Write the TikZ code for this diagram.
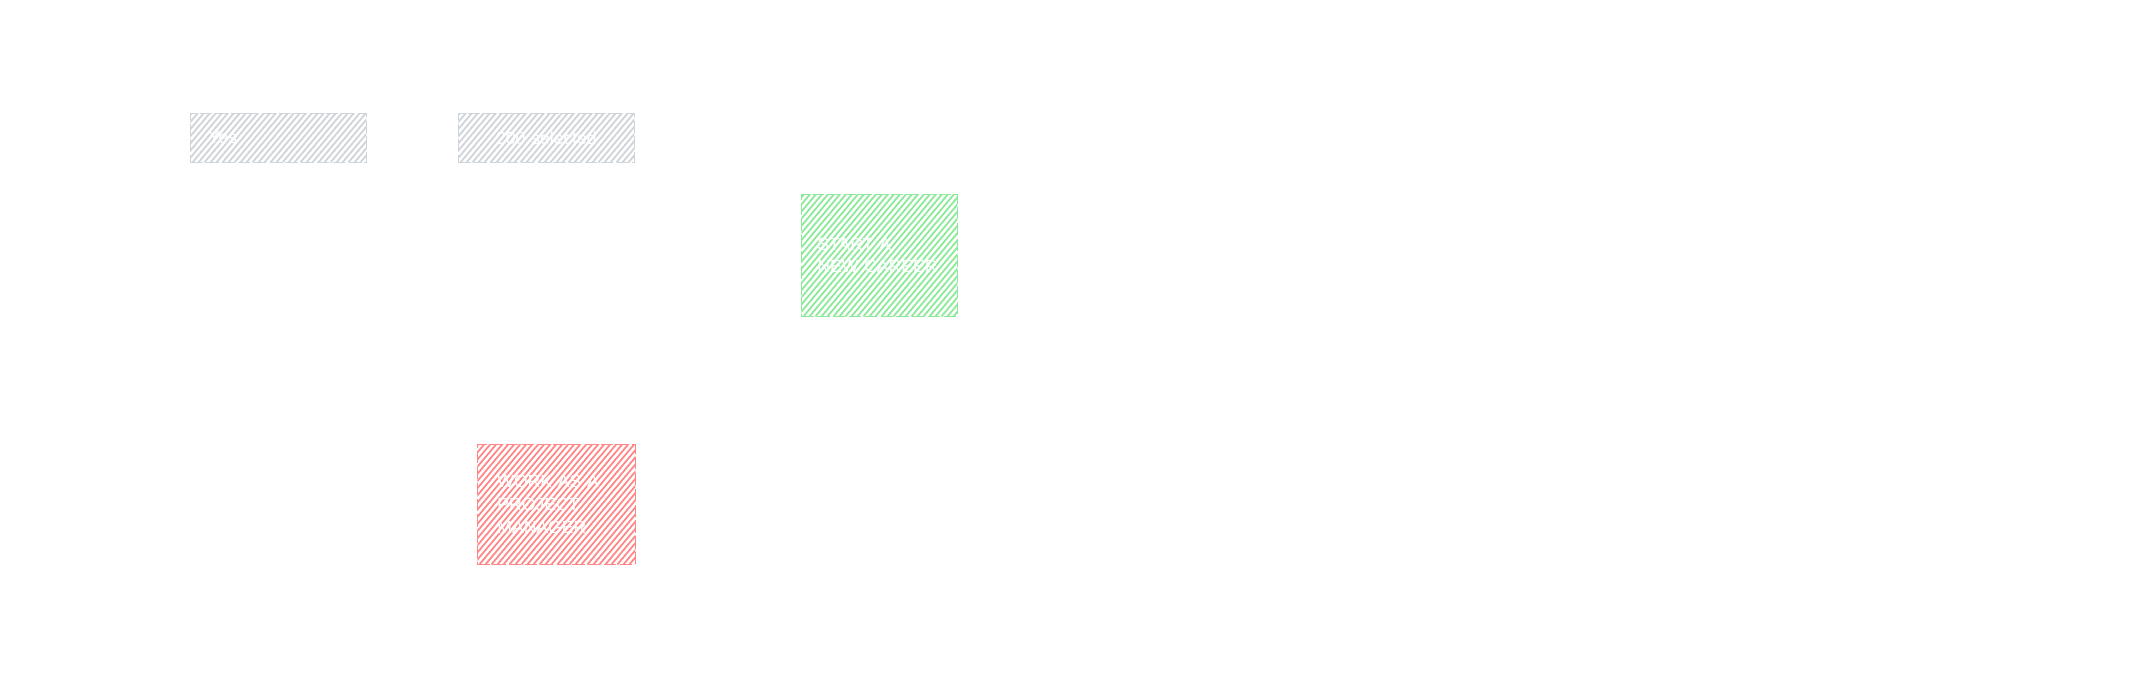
\documentclass[tikz,border=0pt]{standalone}
\usepackage{fontspec}
\setmainfont{Liberation Sans}
\definecolor{sketchgray}{HTML}{CED4DA}
\definecolor{sketchgreen}{HTML}{8CE99A}
\definecolor{sketchred}{HTML}{FF8787}

\begin{document}
\begin{tikzpicture}[x=0.02cm,y=-0.02cm,
    hatch/.style={path picture={
        \foreach \k in {-130,-124,...,185}
          \draw[#1,solid,line width=1pt]
            ([xshift=\k*0.02cm]path picture bounding box.south west) -- ++(50:4cm);
      }},
    sketchbox/.style={rectangle,anchor=north west,hatch=#1,
      draw=#1,line width=0.5pt,dash pattern=on 7pt off 2pt,
      text=white,font=\fontsize{10}{13}\selectfont,align=left,
      inner xsep=0pt,inner ysep=0pt}]
  \useasboundingbox (0,0) rectangle (2155,695);
  \node[sketchbox=sketchgray,minimum width=176*0.02cm,minimum height=49*0.02cm,
        text width=140*0.02cm] (yes) at (190,113) {Yes};
  \node[sketchbox=sketchgray,minimum width=176*0.02cm,minimum height=49*0.02cm,
        text width=176*0.02cm,align=center] (selected) at (458,113) {200 selected};
  \node[sketchbox=sketchgreen,minimum width=156*0.02cm,minimum height=122*0.02cm,
        text width=124*0.02cm] (career) at (801,194) {START A\\NEW CAREER};
  \node[sketchbox=sketchred,minimum width=158*0.02cm,minimum height=120*0.02cm,
        text width=118*0.02cm] (manager) at (477,444) {WORK AS A\\PROJECT\\MANAGER};
\end{tikzpicture}
\end{document}
